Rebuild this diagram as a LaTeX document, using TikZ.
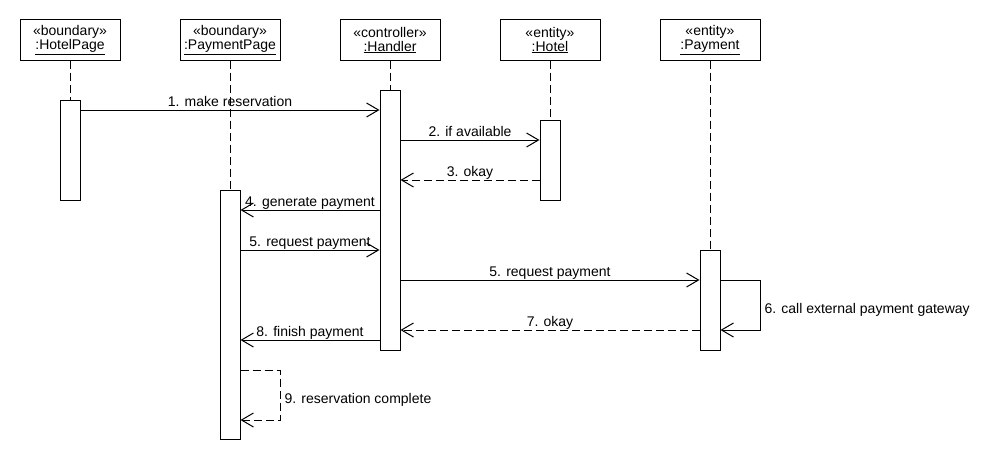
\documentclass[tikz,border=0pt]{standalone}
\usepackage{fontspec}
\setmainfont{Liberation Sans}
\usepackage{tikz}
\usetikzlibrary{arrows.meta}

\begin{document}
\begin{tikzpicture}[x=1pt,y=-1pt,line width=1pt]
    \tikzstyle{every node}=[font=\fontsize{14}{16}\selectfont]
    \tikzstyle{obj}=[draw,rectangle,fill=white,minimum width=100pt,minimum height=40pt,align=center,inner sep=0pt]
    \tikzstyle{act}=[draw,rectangle,fill=white,minimum width=20pt,inner sep=0pt]
    \tikzstyle{life}=[dash pattern=on 8pt off 4pt]
    \tikzstyle{msg}=[-{Straight Barb[length=12pt,width=14pt]}]
    \tikzstyle{ret}=[msg,dash pattern=on 8pt off 4pt]
    \tikzstyle{lbl}=[anchor=base,yshift=4pt,inner sep=0pt]
    \useasboundingbox (0,0) rectangle (1000,460);

    \node[obj] (hp) at (70,40) {«boundary»\\[-2pt]\underline{:HotelPage}};
    \node[obj] (pp) at (230,40) {«boundary»\\[-2pt]\underline{:PaymentPage}};
    \node[obj] (hd) at (390,40) {«controller»\\[-2pt]\underline{:Handler}};
    \node[obj] (ht) at (550,40) {«entity»\\[-2pt]\underline{:Hotel}};
    \node[obj] (pm) at (710,40) {«entity»\\[-2pt]\underline{:Payment}};

    \coordinate (thp) at (70,100);
    \coordinate (tpp) at (230,190);
    \coordinate (thd) at (390,90);
    \coordinate (tht) at (550,120);
    \coordinate (tpm) at (710,250);
    \draw[life] (hp) -- (thp);
    \draw[life] (pp) -- (tpp);
    \draw[life] (hd) -- (thd);
    \draw[life] (ht) -- (tht);
    \draw[life] (pm) -- (tpm);

    \node[act,minimum height=100pt] (ahp) at (70,150) {};
    \node[act,minimum height=249pt] (app) at (230,314.5) {};
    \node[act,minimum height=260pt] (ahd) at (390,220) {};
    \node[act,minimum height=80pt] (aht) at (550,160) {};
    \node[act,minimum height=100pt] (apm) at (710,300) {};

    \draw[msg] (ahp.east |- 0,110) -- node[lbl] {1. make reservation} (ahd.west |- 0,110);
    \draw[msg] (ahd.east |- 0,140) -- node[lbl] {2. if available} (aht.west |- 0,140);
    \draw[ret] (aht.west |- 0,180) -- node[lbl] {3. okay} (ahd.east |- 0,180);
    \draw[msg] (ahd.west |- 0,210) -- node[lbl] {4. generate payment} (app.east |- 0,210);
    \draw[msg] (app.east |- 0,250) -- node[lbl] {5. request payment} (ahd.west |- 0,250);
    \draw[msg] (ahd.east |- 0,280) -- node[lbl] {5. request payment} (apm.west |- 0,280);

    \coordinate (s6a) at (760,280);
    \coordinate (s6b) at (760,330);
    \draw[msg] (apm.east |- s6a) -- (s6a) -- (s6b) -- (apm.east |- s6b);
    \node[anchor=base west,inner sep=0pt] (l6) at (764,313) {6. call external payment gateway};

    \draw[ret] (apm.west |- 0,330) -- node[lbl] {7. okay} (ahd.east |- 0,330);
    \draw[msg] (ahd.west |- 0,340) -- node[lbl] {8. finish payment} (app.east |- 0,340);

    \coordinate (s9a) at (280,370);
    \coordinate (s9b) at (280,420);
    \draw[ret] (app.east |- s9a) -- (s9a) -- (s9b) -- (app.east |- s9b);
    \node[anchor=base west,inner sep=0pt] (l9) at (284,403) {9. reservation complete};
\end{tikzpicture}
\end{document}
